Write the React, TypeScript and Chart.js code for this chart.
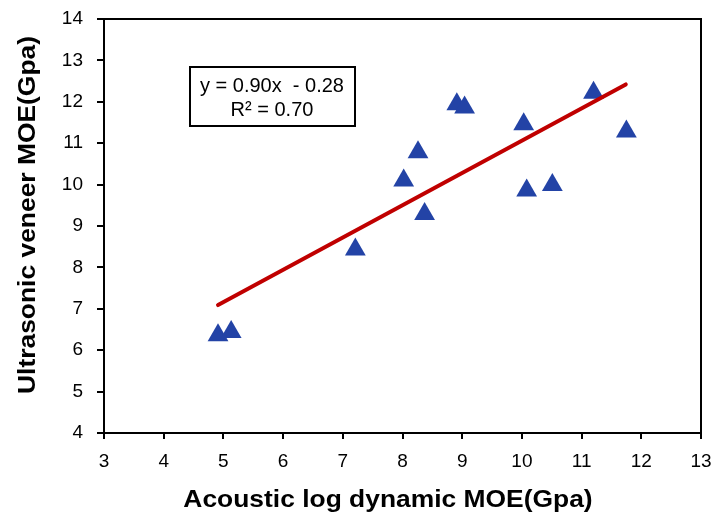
import React, { useEffect, useRef } from "react";
import { Chart, registerables } from "chart.js";

Chart.register(...registerables);

const pointsX = [4.91, 5.13, 7.21, 8.02, 8.26, 8.37, 8.91, 9.04, 10.03, 10.08, 10.51, 11.2, 11.75];
const pointsY = [6.36, 6.44, 8.43, 10.1, 10.78, 9.29, 11.94, 11.86, 11.46, 9.86, 9.99, 12.22, 11.28];
const trendX = [4.91, 11.74];
const trendY = [7.09, 12.42];
const equationLines = ["y = 0.90x  - 0.28", "R² = 0.70"];
const xTitle = "Acoustic log dynamic MOE(Gpa)";
const yTitle = "Ultrasonic veneer MOE(Gpa)";

const FONT = "'Liberation Sans', Arial, sans-serif";

const overlayPlugin = {
  id: "overlay",
  afterDraw(chart: any) {
    const { ctx, chartArea } = chart;
    ctx.save();
    // frame (top and right)
    ctx.strokeStyle = "#000";
    ctx.lineWidth = 2;
    ctx.beginPath();
    ctx.moveTo(chartArea.left - 7, chartArea.top);
    ctx.lineTo(chartArea.right, chartArea.top);
    ctx.lineTo(chartArea.right, chartArea.bottom);
    ctx.stroke();
    // equation box
    ctx.lineWidth = 2;
    ctx.strokeRect(190, 67, 165, 59);
    ctx.fillStyle = "#000";
    ctx.font = `20px ${FONT}`;
    ctx.textAlign = "center";
    ctx.textBaseline = "middle";
    ctx.fillText(equationLines[0], 272, 86);
    ctx.fillText(equationLines[1], 272, 110);
    // axis titles
    ctx.font = `bold 24px ${FONT}`;
    ctx.save();
    ctx.translate(388, 500);
    ctx.scale(1.1, 1);
    ctx.fillText(xTitle, 0, 0);
    ctx.restore();
    ctx.translate(28, 215);
    ctx.rotate(-Math.PI / 2);
    ctx.scale(1.1, 1);
    ctx.fillText(yTitle, 0, 0);
    ctx.restore();
  },
};

export default function App() {
  const ref = useRef<HTMLCanvasElement>(null);
  useEffect(() => {
    document.body.style.margin = "0";
    const data = {
      datasets: [
        {
          label: "points",
          data: pointsX.map((x, i) => ({ x, y: pointsY[i] })),
          pointStyle: "triangle",
          pointRadius: 12,
          pointHoverRadius: 12,
          backgroundColor: "#2343A6",
          borderColor: "#2343A6",
          borderWidth: 0,
          showLine: false,
          order: 1,
        },
        {
          label: "trend",
          data: trendX.map((x, i) => ({ x, y: trendY[i] })),
          showLine: true,
          borderColor: "#C00000",
          borderWidth: 4,
          pointRadius: 0,
          borderCapStyle: "round",
          order: 0,
        },
      ],
    };
    const tickFont = { family: FONT, size: 19 };
    const chart = new Chart(ref.current!, {
      type: "scatter",
      data: data as any,
      options: {
        animation: false,
        responsive: false,
        layout: { padding: { left: 0, top: 19, right: 11, bottom: 0 } },
        plugins: { legend: { display: false }, tooltip: { enabled: false } },
        scales: {
          x: {
            type: "linear",
            min: 3,
            max: 13,
            ticks: { stepSize: 1, color: "#000", font: tickFont, padding: 11, maxRotation: 0 },
            grid: { drawOnChartArea: false, tickLength: 6, color: "#000", lineWidth: 2 },
            border: { color: "#000", width: 2 },
            afterFit: (s: any) => {
              s.height = 81;
              s.paddingLeft = 0;
              s.paddingRight = 0;
              s.paddingTop = 0;
              s.paddingBottom = 0;
            },
          },
          y: {
            type: "linear",
            min: 4,
            max: 14,
            ticks: { stepSize: 1, color: "#000", font: tickFont, padding: 14 },
            grid: { drawOnChartArea: false, tickLength: 7, color: "#000", lineWidth: 2 },
            border: { color: "#000", width: 2 },
            afterFit: (s: any) => {
              s.width = 104;
              s.paddingLeft = 0;
              s.paddingRight = 0;
              s.paddingTop = 0;
              s.paddingBottom = 0;
            },
          },
        },
      },
      plugins: [overlayPlugin],
    });
    return () => chart.destroy();
  }, []);
  return (
    <div style={{ width: 713, height: 514, background: "#fff" }}>
      <canvas ref={ref} width={713} height={514} style={{ display: "block" }} />
    </div>
  );
}
